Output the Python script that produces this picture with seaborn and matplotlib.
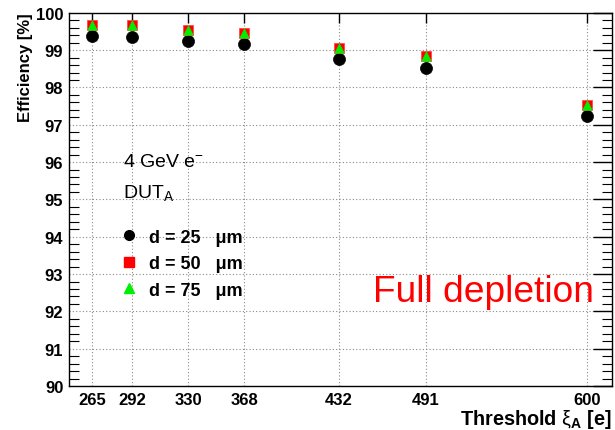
import matplotlib
matplotlib.use("Agg")
import matplotlib.pyplot as plt
import seaborn as sns
import pandas as pd
from matplotlib.ticker import MultipleLocator, FixedLocator
from matplotlib.lines import Line2D

thresholds = [265, 292, 330, 368, 432, 491, 600]
eff_25 = [99.38, 99.36, 99.24, 99.17, 98.76, 98.53, 97.24]
eff_50 = [99.67, 99.67, 99.55, 99.47, 99.07, 98.84, 97.54]
eff_75 = [99.66, 99.66, 99.54, 99.46, 99.06, 98.83, 97.54]
series_labels = ["d = 25   \u03bcm", "d = 50   \u03bcm", "d = 75   \u03bcm"]

sns.set_theme(style="white")
plt.rcParams['font.family'] = ['Liberation Sans', 'DejaVu Sans']
plt.rcParams['mathtext.fontset'] = 'custom'
plt.rcParams['mathtext.rm'] = 'Liberation Sans'
plt.rcParams['mathtext.it'] = 'Liberation Sans:italic'
plt.rcParams['mathtext.bf'] = 'Liberation Sans:bold'
for k in ['text.color', 'axes.labelcolor', 'xtick.color', 'ytick.color']:
    plt.rcParams[k] = 'black'

df = pd.DataFrame({
    "threshold": thresholds * 3,
    "eff": eff_25 + eff_50 + eff_75,
    "series": [series_labels[0]] * 7 + [series_labels[1]] * 7 + [series_labels[2]] * 7,
})

fig = plt.figure(figsize=(6.15, 4.31), dpi=100)
ax = fig.add_axes([0.112, 0.102, 0.883, 0.866])

colors = ["black", "#ff0000", "#00ee00"]
markers = ["o", "s", "^"]
sizes = [75, 60, 45]
for lab, c, m, s in zip(series_labels, colors, markers, sizes):
    sub = df[df["series"] == lab]
    sns.scatterplot(data=sub, x="threshold", y="eff", color=c, marker=m, s=s,
                    edgecolor=c if m != "s" else "#ff4040", linewidth=0.5, ax=ax, legend=False, zorder=3)

ax.set_xlim(249, 617)
ax.set_ylim(90, 100)
ax.xaxis.set_major_locator(FixedLocator(thresholds))
ax.yaxis.set_minor_locator(MultipleLocator(0.2))
ax.set_xticklabels([str(t) for t in thresholds], fontsize=12, fontweight='bold')
ax.set_yticks(range(90, 101))
ax.set_yticklabels([str(v) for v in range(90, 101)], fontsize=12, fontweight='bold')
ax.tick_params(axis='both', which='major', direction='in', top=True, right=True, length=7, width=1, pad=4)
ax.tick_params(axis='y', which='major', length=14)
ax.tick_params(axis='y', which='minor', direction='in', left=True, right=True, length=7, width=0.8)
ax.grid(True, which='major', linestyle=(0, (1, 2)), color='#888888', linewidth=0.8)
for sp in ax.spines.values():
    sp.set_color('black')
    sp.set_linewidth(1.0)

ax.set_xlabel(r"Threshold $\mathrm{\xi}_{\mathbf{A}}$ [e]", fontsize=14.3, fontweight='bold', loc='right', labelpad=0)
ax.set_ylabel("Efficiency [%]", fontsize=12, fontweight='bold', loc='top', labelpad=2)

ax.text(0.0995, 0.59, r"4 GeV e$^{-}$", transform=ax.transAxes, fontsize=14)
ax.text(0.0995, 0.507, r"DUT$_{\mathrm{A}}$", transform=ax.transAxes, fontsize=14)

handles = [Line2D([], [], linestyle='none', marker=m, color=c, markersize=ms)
           for c, m, ms in zip(colors, markers, [7, 7, 6.5])]
leg = ax.legend(handles, series_labels, loc='upper left', bbox_to_anchor=(0.065, 0.465),
                frameon=False, handlelength=1.0, handletextpad=0.6, labelspacing=0.52,
                prop={'weight': 'bold', 'size': 13})

ax.text(0.56, 0.228, "Full depletion", transform=ax.transAxes, fontsize=26.7, color='#ff0000')

fig.savefig("out.png", dpi=100)
